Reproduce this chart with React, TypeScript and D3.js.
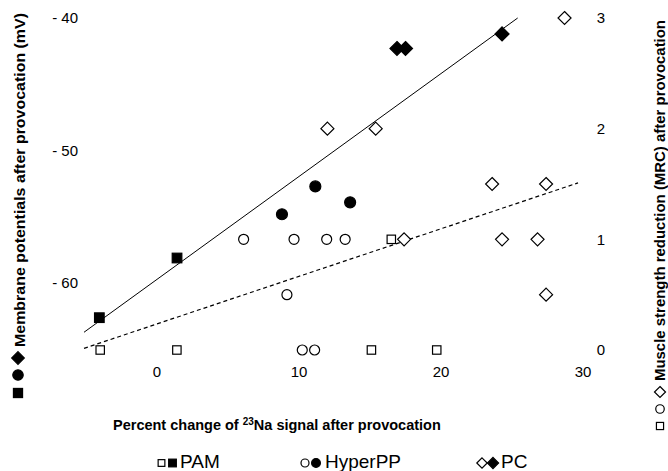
import React from 'react';
import * as d3 from 'd3';

// percent change of 23Na signal (x) against MRC (open) or membrane potential in mV (filled)
const pamMrc: [number, number][] = [[-4.0, 0], [1.4, 0], [15.1, 0], [16.5, 1], [19.7, 0]];
const pamMp: [number, number][] = [[-4.06, -62.6], [1.41, -58.1]];
const hyperMrc: [number, number][] = [[6.1, 1], [9.65, 1], [11.95, 1], [13.25, 1], [9.15, 0.5], [10.23, 0], [11.1, 0]];
const hyperMp: [number, number][] = [[8.8, -54.8], [11.15, -52.7], [13.6, -53.9]];
const pcMrc: [number, number][] = [[12.0, 2], [15.4, 2], [17.4, 1], [23.6, 1.5], [24.3, 1], [26.8, 1], [27.4, 1.5], [27.4, 0.5], [28.7, 3]];
const pcMp: [number, number][] = [[16.9, -42.3], [17.5, -42.3], [24.3, -41.2]];

// regression lines (end points)
const mpFit: [number, number][] = [[-5.14, -63.7], [25.4, -40.0]];
const mrcFit: [number, number][] = [[-5.14, 0.015], [29.65, 1.51]];

const xTicks = [0, 10, 20, 30];
const mpTicks = [-40, -50, -60];
const mrcTicks = [0, 1, 2, 3];

const FONT = '"Liberation Sans", Arial, sans-serif';

type Shape = 'square' | 'circle' | 'diamond';

function Marker({ shape, x, y, filled, s = 1 }: { shape: Shape; x: number; y: number; filled: boolean; s?: number }) {
  const fill = filled ? '#000' : '#fff';
  const sw = 1.2;
  if (shape === 'square') {
    const h = (filled ? 4.8 : 4.2) * s;
    return <rect x={x - h} y={y - h} width={h * 2} height={h * 2} fill={fill} stroke="#000" strokeWidth={sw} />;
  }
  if (shape === 'circle') {
    const r = (filled ? 5.5 : 5) * s;
    return <circle cx={x} cy={y} r={r} fill={fill} stroke="#000" strokeWidth={sw} />;
  }
  const d = (filled ? 7 : 6.5) * s;
  return <path d={`M${x},${y - d}L${x + d},${y}L${x},${y + d}L${x - d},${y}Z`} fill={fill} stroke="#000" strokeWidth={sw} />;
}

export default function App() {
  const x = d3.scaleLinear().domain([0, 30]).range([157, 583]);
  const yMp = d3.scaleLinear().domain([-65, -40]).range([349.5, 18]);
  const yMrc = d3.scaleLinear().domain([0, 3]).range([350, 18]);

  const lineMp = d3.line<[number, number]>().x((d) => x(d[0])).y((d) => yMp(d[1]));
  const lineMrc = d3.line<[number, number]>().x((d) => x(d[0])).y((d) => yMrc(d[1]));

  const groups: { shape: Shape; mrc: [number, number][]; mp: [number, number][] }[] = [
    { shape: 'square', mrc: pamMrc, mp: pamMp },
    { shape: 'circle', mrc: hyperMrc, mp: hyperMp },
    { shape: 'diamond', mrc: pcMrc, mp: pcMp },
  ];

  const legend = [
    { shape: 'square' as Shape, label: 'PAM', x: 161.5, tx: 180 },
    { shape: 'circle' as Shape, label: 'HyperPP', x: 305, tx: 325 },
    { shape: 'diamond' as Shape, label: 'PC', x: 482, tx: 501 },
  ];

  return (
    <svg width={668} height={471} style={{ position: 'absolute', left: 0, top: 0, background: '#fff' }} fontFamily={FONT}>
      <rect width={668} height={471} fill="#fff" />

      {/* fitted lines */}
      <path d={lineMp(mpFit) || ''} fill="none" stroke="#000" strokeWidth={1} />
      <path d={lineMrc(mrcFit) || ''} fill="none" stroke="#000" strokeWidth={1.2} strokeDasharray="4,3" />

      {/* points */}
      {groups.map((g) => (
        <g key={g.shape}>
          {g.mrc.map((d, i) => (
            <Marker key={'o' + i} shape={g.shape} x={x(d[0])} y={yMrc(d[1])} filled={false} />
          ))}
          {g.mp.map((d, i) => (
            <Marker key={'f' + i} shape={g.shape} x={x(d[0])} y={yMp(d[1])} filled={true} />
          ))}
        </g>
      ))}

      {/* tick labels */}
      {mpTicks.map((t) => (
        <text key={t} x={78} y={yMp(t)} dy="0.35em" textAnchor="end" fontSize={15}>
          {'- ' + Math.abs(t)}
        </text>
      ))}
      {mrcTicks.map((t) => (
        <text key={t} x={601} y={yMrc(t)} dy="0.35em" textAnchor="middle" fontSize={15}>
          {t}
        </text>
      ))}
      {xTicks.map((t) => (
        <text key={t} x={x(t)} y={372} dy="0.35em" textAnchor="middle" fontSize={15}>
          {t}
        </text>
      ))}

      {/* x axis title */}
      <text x={113} y={430} fontSize={14.5} fontWeight="bold">
        Percent change of <tspan fontSize={10} dy={-5}>23</tspan>
        <tspan dy={5}>Na signal after provocation</tspan>
      </text>

      {/* left axis title */}
      <Marker shape="square" x={18} y={393} filled={true} s={0.95} />
      <Marker shape="circle" x={18} y={375} filled={true} s={0.95} />
      <Marker shape="diamond" x={18} y={358} filled={true} s={0.9} />
      <text transform="translate(24.5,347) rotate(-90)" fontSize={14.5} fontWeight="bold" textLength={334} lengthAdjust="spacingAndGlyphs">
        Membrane potentials after provocation (mV)
      </text>

      {/* right axis title */}
      <Marker shape="square" x={660} y={426} filled={false} s={0.85} />
      <Marker shape="circle" x={660} y={409} filled={false} s={0.85} />
      <Marker shape="diamond" x={660} y={392} filled={false} s={0.85} />
      <text transform="translate(665,381) rotate(-90)" fontSize={14} fontWeight="bold" textLength={361} lengthAdjust="spacingAndGlyphs">
        Muscle strength reduction (MRC) after provocation
      </text>

      {/* legend */}
      {legend.map((l) => (
        <g key={l.label}>
          <Marker shape={l.shape} x={l.x} y={463} filled={false} s={0.8} />
          <Marker shape={l.shape} x={l.x + 11} y={463} filled={true} s={0.8} />
          <text x={l.tx} y={468} fontSize={19}>
            {l.label}
          </text>
        </g>
      ))}
    </svg>
  );
}
